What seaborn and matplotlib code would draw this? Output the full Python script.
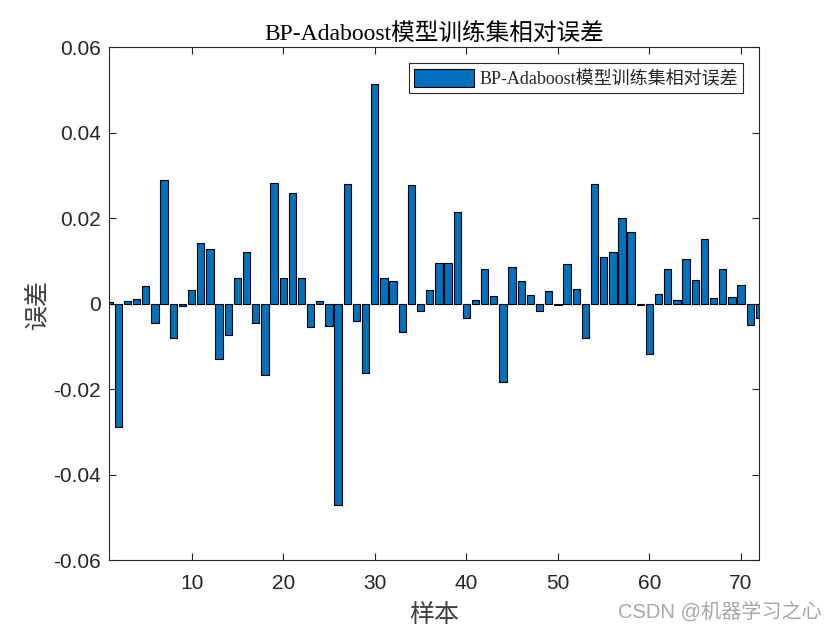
import matplotlib
matplotlib.use("Agg")
import matplotlib.pyplot as plt
import seaborn as sns
import pandas as pd
import numpy as np

samples = list(range(1, 73))
errors = [
    0.0005, -0.0288, 0.0006, 0.0011, 0.0041, -0.0045, 0.0289, -0.0080, -0.0005, 0.0032,
    0.0143, 0.0128, -0.0130, -0.0073, 0.0059, 0.0122, -0.0045, -0.0167, 0.0282, 0.0059,
    0.0259, 0.0060, -0.0055, 0.0006, -0.0052, -0.0471, 0.0280, -0.0041, -0.0162, 0.0515,
    0.0059, 0.0054, -0.0066, 0.0278, -0.0017, 0.0033, 0.0095, 0.0095, 0.0215, -0.0034,
    0.0009, 0.0081, 0.0017, -0.0183, 0.0086, 0.0053, 0.0020, -0.0017, 0.0030, -0.0002,
    0.0093, 0.0035, -0.0080, 0.0280, 0.0109, 0.0122, 0.0200, 0.0168, -0.0003, -0.0118,
    0.0023, 0.0080, 0.0009, 0.0105, 0.0056, 0.0151, 0.0013, 0.0080, 0.0016, 0.0044,
    -0.0049, -0.0034,
]
y_ticks = [-0.06, -0.04, -0.02, 0, 0.02, 0.04, 0.06]
y_ticklabels = ["-0.06", "-0.04", "-0.02", "0", "0.02", "0.04", "0.06"]
x_ticks = [10, 20, 30, 40, 50, 60, 70]
series_name = "BP-Adaboost模型训练集相对误差"

sns.set_theme(style="white")
plt.rcParams["font.family"] = ["Liberation Sans", "Noto Sans CJK SC", "DejaVu Sans"]
cjk_serif = ["Liberation Serif", "Noto Sans CJK SC", "DejaVu Sans"]

df = pd.DataFrame({"sample": samples, "error": errors})

fig = plt.figure(figsize=(8.4, 6.3), dpi=100)
ax = fig.add_axes([0.130, 0.111, 0.774, 0.814])

sns.barplot(data=df, x="sample", y="error", native_scale=True, width=0.8,
            color="#0072BD", saturation=1, edgecolor="black", linewidth=0.8,
            ax=ax, label=series_name)

ax.set_xlim(1, 72)
ax.set_ylim(-0.06, 0.06)
ax.set_xticks(x_ticks)
ax.set_xticklabels([str(t) for t in x_ticks])
ax.set_yticks(y_ticks)
ax.set_yticklabels(y_ticklabels)
ax.tick_params(direction="in", length=5, width=0.8, colors="#262626",
               labelsize=15, top=True, right=True, bottom=True, left=True,
               labeltop=False, labelright=False)
for tl in ax.get_xticklabels() + ax.get_yticklabels():
    tl.set_color("#262626")
ax.tick_params(axis="x", pad=10)
ax.tick_params(axis="y", pad=6)
for s in ax.spines.values():
    s.set_color("#262626")
    s.set_linewidth(0.8)
ax.grid(False)

ax.set_xlabel("样本", fontsize=18, family=cjk_serif, color="#404040", labelpad=8)
ax.set_ylabel("误差", fontsize=18, family=cjk_serif, color="#404040", labelpad=3)
ax.set_title(series_name, fontsize=17, family=cjk_serif, color="#000000", pad=5)

leg = ax.legend(loc="upper right", bbox_to_anchor=(0.975, 0.969), borderaxespad=0,
                frameon=True, fancybox=False, edgecolor="#262626", framealpha=1,
                prop={"family": cjk_serif, "size": 13},
                handlelength=3.3, handleheight=1.2, borderpad=0.3, handletextpad=0.3)
leg.get_frame().set_linewidth(0.8)

fig.text(0.978, 0.03, "CSDN @机器学习之心", ha="right", va="center", fontsize=14.5,
         color="#a8a8a8", family=["Liberation Sans", "Noto Sans CJK SC", "DejaVu Sans"])

fig.savefig("out.png", dpi=100, facecolor="white")
